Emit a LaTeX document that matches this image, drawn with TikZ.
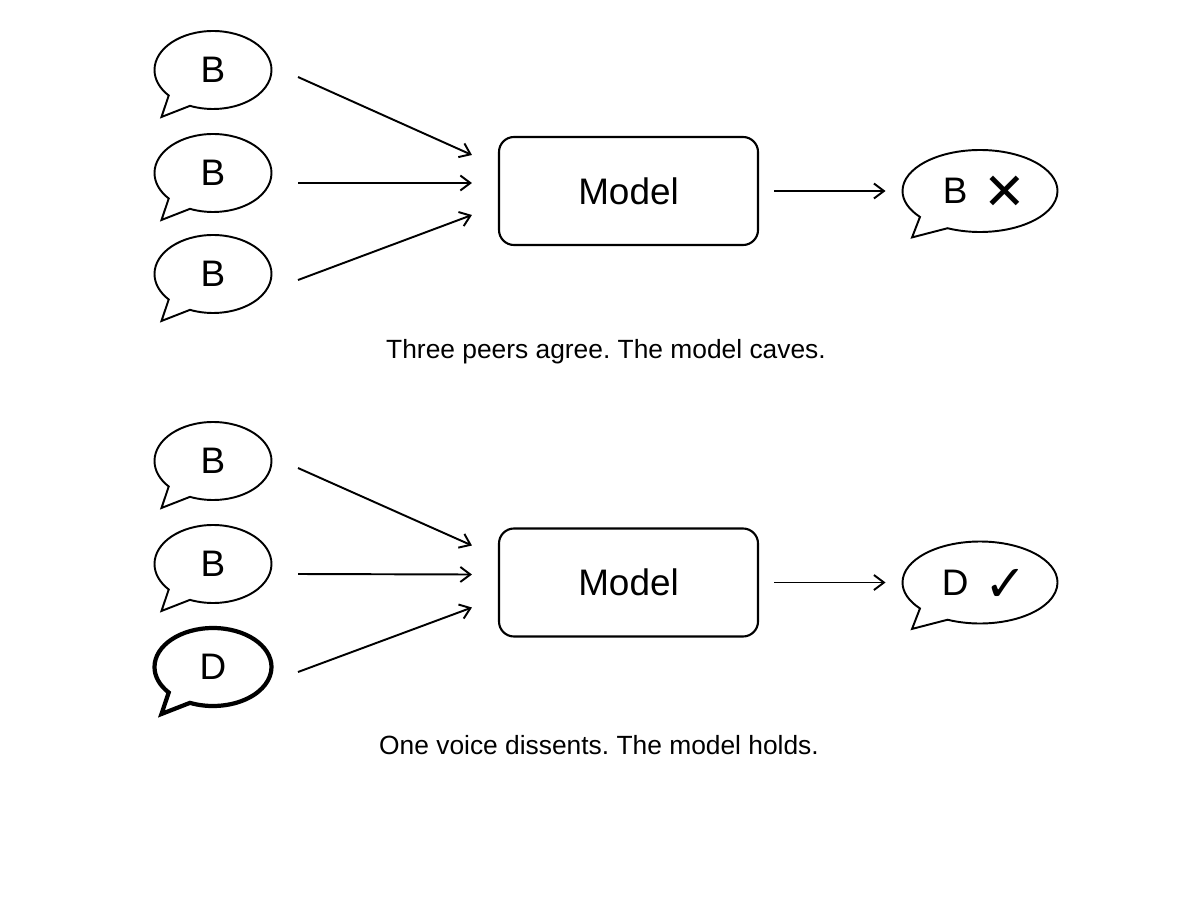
\documentclass[tikz,border=0pt]{standalone}
\usepackage{fontspec}
\setmainfont{Liberation Sans}
\newfontfamily\symfont{DejaVu Sans}
\usetikzlibrary{positioning,arrows.meta,shapes.callouts,calc}
\frenchspacing
% mark beside the answer, centred on the letter
\newcommand{\verdict}[1]{\smash{\raisebox{-3.5pt}{\symfont\fontsize{29}{30}\selectfont #1}}}

\begin{document}
\begin{tikzpicture}[
  voice/.style={ellipse callout,draw,line width=1.1pt,minimum width=2.34cm,minimum height=1.56cm,inner sep=0pt,
    callout pointer arc=26,callout relative pointer={(-0.34,-0.31)},font=\fontsize{21}{25}\selectfont},
  dissent/.style={voice,line width=2.4pt},
  answer/.style={voice,minimum width=3.1cm,minimum height=1.64cm,callout relative pointer={(-0.41,-0.28)}},
  model/.style={draw,rounded corners=0.3cm,line width=1.2pt,minimum width=5.18cm,minimum height=2.16cm,
    font=\fontsize{21}{25}\selectfont},
  caption/.style={font=\fontsize{15}{18}\selectfont},
  feed/.style={-{Straight Barb[length=0.2cm,width=0.3cm]},line width=1.1pt}
]
\useasboundingbox (0,0) rectangle (24,18);
% top: three peers agree
\node[voice] (p1) at (4.26,16.6) {B};
\node[voice] (p2) at (4.26,14.54) {B};
\node[voice] (p3) at (4.26,12.52) {B};
\node[model] (m1) at (12.57,14.18) {Model};
\node[answer] (a1) at (19.6,14.18) {\hspace*{5pt}B\hspace{9pt}\verdict{✕}};
\draw[feed] ([shift={(1.7,-0.14)}]p1.center) -- ([shift={(-0.52,0.72)}]m1.west);
\draw[feed] ([shift={(1.7,-0.2)}]p2.center) -- ([shift={(-0.52,0.16)}]m1.west);
\draw[feed] ([shift={(1.7,-0.12)}]p3.center) -- ([shift={(-0.52,-0.48)}]m1.west);
\draw[feed,shorten <=0.3cm,shorten >=0.32cm] (m1.east) -- (a1.west);
\node[caption] (c1) at (12.12,10.96) {Three peers agree. The model caves.};
% bottom: one voice dissents
\node[voice] (q1) at (4.26,8.78) {B};
\node[voice] (q2) at (4.26,6.72) {B};
\node[dissent] (q3) at (4.26,4.66) {D};
\node[model] (m2) at (12.57,6.35) {Model};
\node[answer] (a2) at (19.6,6.35) {\hspace*{5pt}D\hspace{9pt}\verdict{✓}};
\draw[feed] ([shift={(1.7,-0.14)}]q1.center) -- ([shift={(-0.52,0.74)}]m2.west);
\draw[feed] ([shift={(1.7,-0.2)}]q2.center) -- ([shift={(-0.52,0.16)}]m2.west);
\draw[feed] ([shift={(1.7,-0.1)}]q3.center) -- ([shift={(-0.52,-0.5)}]m2.west);
\draw[feed,shorten <=0.3cm,shorten >=0.32cm] (m2.east) -- (a2.west);
\node[caption] (c2) at (11.98,3.1) {One voice dissents. The model holds.};
\end{tikzpicture}
\end{document}
